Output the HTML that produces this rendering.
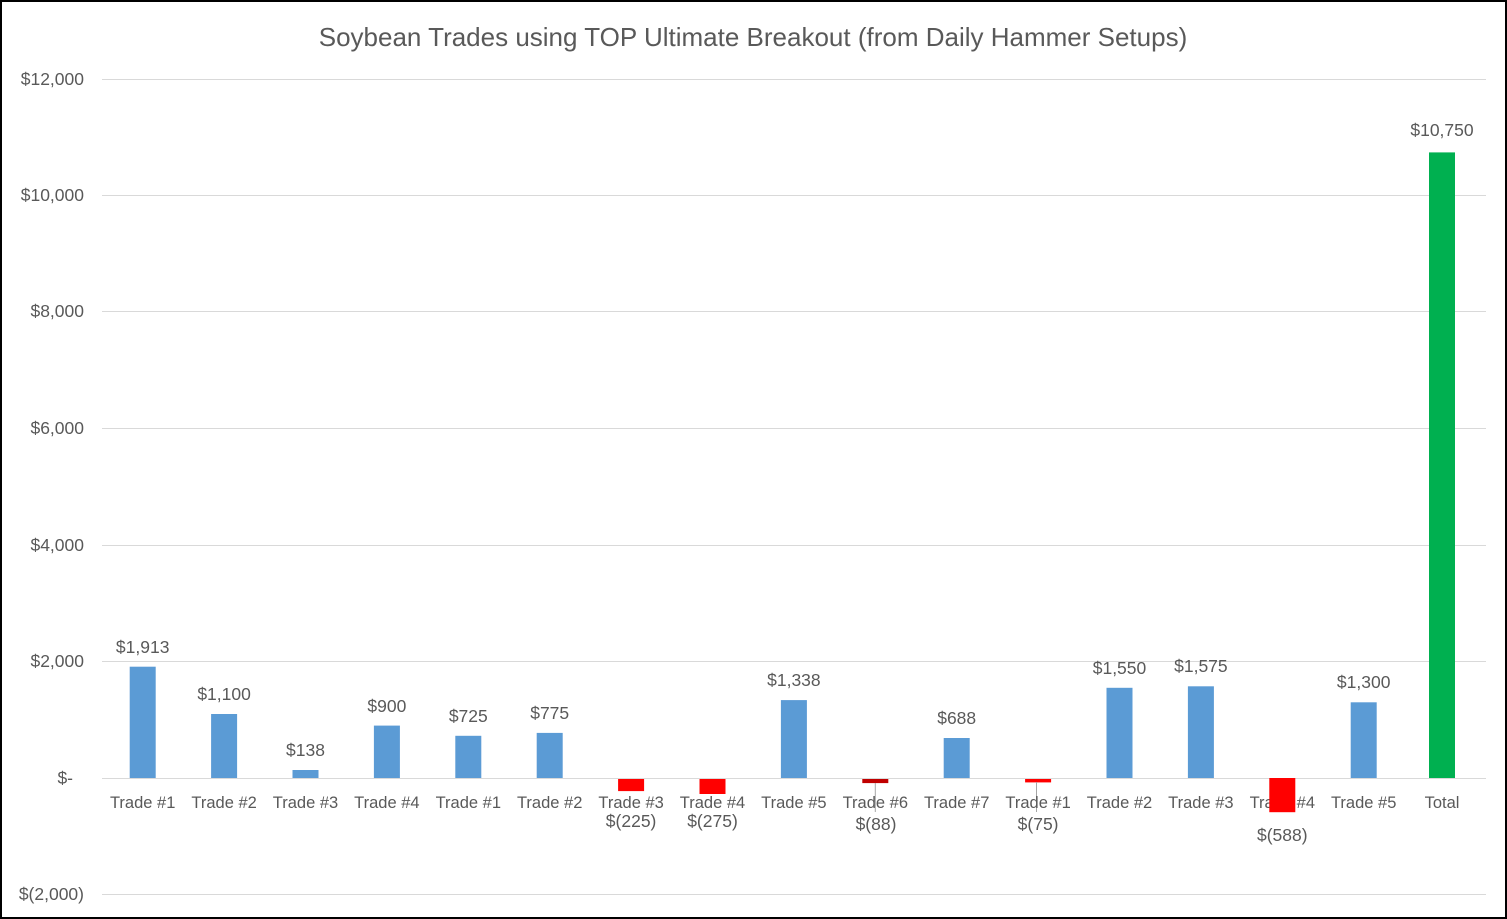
<!DOCTYPE html>
<html><head><meta charset="utf-8"><style>
body{margin:0;background:#fff}
svg{display:block}
text{font-family:"Liberation Sans",Arial,sans-serif;fill:#595959}
</style></head><body>
<svg width="1507" height="919" viewBox="0 0 1507 919">
<rect x="1" y="1" width="1505" height="917" fill="#fff" stroke="#000" stroke-width="2"/>
<text x="753" y="46" font-size="26" text-anchor="middle">Soybean Trades using TOP Ultimate Breakout (from Daily Hammer Setups)</text>
<g stroke="#d9d9d9" stroke-width="1">
<line x1="102" x2="1486" y1="79.5" y2="79.5"/>
<line x1="102" x2="1486" y1="195.5" y2="195.5"/>
<line x1="102" x2="1486" y1="311.5" y2="311.5"/>
<line x1="102" x2="1486" y1="428.5" y2="428.5"/>
<line x1="102" x2="1486" y1="545.5" y2="545.5"/>
<line x1="102" x2="1486" y1="661.5" y2="661.5"/>
<line x1="102" x2="1486" y1="894.5" y2="894.5"/>
</g>
<g font-size="17.5" text-anchor="end">
<text x="84" y="85">$12,000</text>
<text x="84" y="201">$10,000</text>
<text x="84" y="317">$8,000</text>
<text x="84" y="434">$6,000</text>
<text x="84" y="551">$4,000</text>
<text x="84" y="667">$2,000</text>
<text x="73" y="784">$-</text>
<text x="84" y="900">$(2,000)</text>
</g>
<g fill="#5b9bd5">
<rect x="129.7" y="666.7" width="26" height="111.3"/>
<rect x="211.1" y="714" width="26" height="64"/>
<rect x="292.5" y="770" width="26" height="8"/>
<rect x="373.9" y="725.6" width="26" height="52.4"/>
<rect x="455.3" y="735.8" width="26" height="42.2"/>
<rect x="536.7" y="732.9" width="26" height="45.1"/>
<rect x="780.9" y="700.1" width="26" height="77.9"/>
<rect x="943.7" y="738" width="26" height="40"/>
<rect x="1106.5" y="687.8" width="26" height="90.2"/>
<rect x="1187.9" y="686.3" width="26" height="91.7"/>
<rect x="1350.7" y="702.3" width="26" height="75.7"/>
</g>
<rect x="1429" y="152.4" width="26" height="625.6" fill="#00b050"/>
<g fill="#ff0000">
<rect x="618.1" y="778" width="26" height="13.1"/>
<rect x="699.5" y="778" width="26" height="16"/>
<rect x="1025.1" y="778" width="26" height="4.4"/>
</g>
<rect x="862.3" y="778" width="26" height="5.1" fill="#c00000"/>
<line x1="102" x2="1486" y1="778.5" y2="778.5" stroke="#d9d9d9"/>
<line x1="875.3" x2="875.3" y1="783" y2="812" stroke="#a6a6a6"/>
<line x1="1036.5" x2="1036.5" y1="782" y2="812" stroke="#a6a6a6"/>
<g font-size="16.5" text-anchor="middle">
<text x="142.7" y="808">Trade #1</text>
<text x="224.1" y="808">Trade #2</text>
<text x="305.5" y="808">Trade #3</text>
<text x="386.9" y="808">Trade #4</text>
<text x="468.3" y="808">Trade #1</text>
<text x="549.7" y="808">Trade #2</text>
<text x="631.1" y="808">Trade #3</text>
<text x="712.5" y="808">Trade #4</text>
<text x="793.9" y="808">Trade #5</text>
<text x="875.3" y="808">Trade #6</text>
<text x="956.7" y="808">Trade #7</text>
<text x="1038.1" y="808">Trade #1</text>
<text x="1119.5" y="808">Trade #2</text>
<text x="1200.9" y="808">Trade #3</text>
<text x="1282.3" y="808">Trade #4</text>
<text x="1363.7" y="808">Trade #5</text>
<text x="1442" y="808">Total</text>
</g>
<rect x="1269.3" y="778" width="26" height="34.2" fill="#ff0000"/>
<g font-size="17.5" text-anchor="middle">
<text x="142.7" y="653">$1,913</text>
<text x="224.1" y="700">$1,100</text>
<text x="305.5" y="756">$138</text>
<text x="386.9" y="712">$900</text>
<text x="468.3" y="722">$725</text>
<text x="549.7" y="719">$775</text>
<text x="631.1" y="827">$(225)</text>
<text x="712.5" y="827">$(275)</text>
<text x="793.9" y="686">$1,338</text>
<text x="876" y="830">$(88)</text>
<text x="956.7" y="724">$688</text>
<text x="1038.1" y="830">$(75)</text>
<text x="1119.5" y="674">$1,550</text>
<text x="1200.9" y="672">$1,575</text>
<text x="1282.3" y="841">$(588)</text>
<text x="1363.7" y="688">$1,300</text>
<text x="1442" y="136">$10,750</text>
</g>
</svg>
</body></html>
